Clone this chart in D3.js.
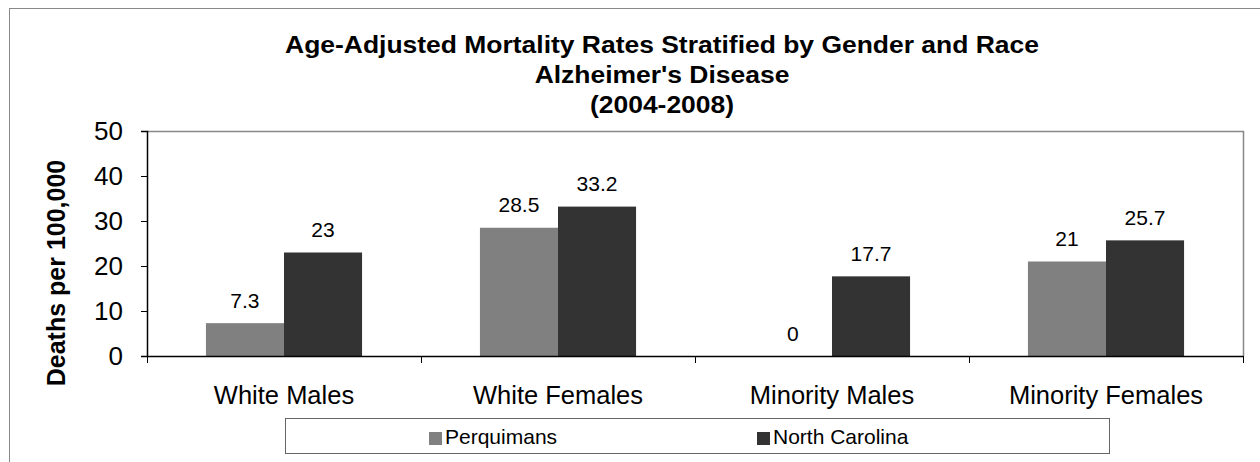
<!DOCTYPE html>
<html lang="en">
<head>
    <meta charset="UTF-8">
    <script src="https://d3js.org/d3.v7.min.js"></script>
    <title>Alzheimer's Disease Mortality</title>
    <style>
        body { margin: 0; background: white; }
        svg { font-family: "Liberation Sans", Arial, sans-serif; display: block; }
    </style>
</head>
<body>
<script>
    // ---------------- data ----------------
    const categories = ["White Males", "White Females", "Minority Males", "Minority Females"];
    const seriesNames = ["Perquimans", "North Carolina"];
    const perquimans = [7.3, 28.5, 0, 21];
    const northCarolina = [23, 33.2, 17.7, 25.7];
    const yTicks = [0, 10, 20, 30, 40, 50];
    const colors = ["#808080", "#333333"];
    const titleLines = [
        "Age-Adjusted Mortality Rates Stratified by Gender and Race",
        "Alzheimer's Disease",
        "(2004-2008)"
    ];

    const W = 1260, H = 462;
    const plot = { left: 147, right: 1243, top: 131, bottom: 356 };
    const FONT = "Liberation Sans, Arial, sans-serif";

    const svg = d3.select("body").append("svg")
        .attr("width", W)
        .attr("height", H);

    // outer chart border (runs off the right / bottom edge)
    svg.append("rect")
        .attr("x", 9.5).attr("y", 8.5)
        .attr("width", W + 20).attr("height", H + 20)
        .attr("fill", "none").attr("stroke", "#888").attr("stroke-width", 1);

    // title - text is a bit wider than tall in the original, so stretch it a little
    svg.append("g").selectAll("text")
        .data(titleLines)
        .enter().append("text")
        .attr("transform", (d, i) => `translate(662,${53 + i * 30}) scale(1.08,1)`)
        .attr("text-anchor", "middle")
        .attr("font-size", 24.5).attr("font-weight", "bold")
        .text(d => d);

    // scales
    const x0 = d3.scaleBand().domain(categories).range([plot.left, plot.right]);
    const x1 = d3.scaleBand().domain(seriesNames)
        .range([0, x0.bandwidth()]).paddingOuter(0.755).paddingInner(0);
    const y = d3.scaleLinear().domain([0, 50]).range([plot.bottom, plot.top]);

    // plot area border (grey)
    svg.append("path")
        .attr("d", `M${plot.left},${plot.top + 0.5}H${plot.right + 0.5}V${plot.bottom}`)
        .attr("fill", "none").attr("stroke", "#888").attr("stroke-width", 1.5);

    // bars
    const rows = categories.map((c, i) => ({ cat: c, vals: [perquimans[i], northCarolina[i]] }));
    const groups = svg.append("g").selectAll("g")
        .data(rows)
        .enter().append("g")
        .attr("transform", d => `translate(${x0(d.cat)},0)`);

    groups.selectAll("rect")
        .data(d => d.vals.map((v, j) => ({ name: seriesNames[j], v: v, j: j })))
        .enter().append("rect")
        .attr("x", d => x1(d.name))
        .attr("y", d => y(d.v))
        .attr("width", x1.bandwidth())
        .attr("height", d => plot.bottom - y(d.v))
        .attr("fill", d => colors[d.j]);

    groups.selectAll("text")
        .data(d => d.vals.map((v, j) => ({ name: seriesNames[j], v: v })))
        .enter().append("text")
        .attr("x", d => x1(d.name) + x1.bandwidth() / 2)
        .attr("y", d => y(d.v) - 15.5)
        .attr("text-anchor", "middle")
        .attr("font-size", 21)
        .text(d => d.v);

    // y axis
    const yAxis = svg.append("g")
        .attr("transform", `translate(${plot.left},0)`)
        .call(d3.axisLeft(y).tickValues(yTicks).tickSize(6).tickPadding(18));
    yAxis.select(".domain").attr("stroke", "#000").attr("stroke-width", 1.5);
    yAxis.selectAll(".tick line").attr("stroke", "#000");
    yAxis.selectAll("text").attr("font-size", 26).attr("fill", "#000")
        .attr("font-family", FONT);

    // x axis
    const xAxis = svg.append("g")
        .attr("transform", `translate(0,${plot.bottom})`)
        .call(d3.axisBottom(x0).tickSize(0).tickPadding(30));
    xAxis.select(".domain").attr("stroke", "#000").attr("stroke-width", 1.5);
    xAxis.selectAll("text").attr("font-size", 25.5).attr("fill", "#000")
        .attr("font-family", FONT);

    // category separators
    const bounds = categories.map(c => x0(c)).concat([plot.right]);
    svg.append("g").selectAll("line")
        .data(bounds)
        .enter().append("line")
        .attr("x1", d => d + 0.5).attr("x2", d => d + 0.5)
        .attr("y1", plot.bottom).attr("y2", plot.bottom + 7)
        .attr("stroke", "#000");

    // y axis title (sits a little below the plot's middle in the original)
    svg.append("text")
        .attr("transform", "translate(65,273) rotate(-90)")
        .attr("text-anchor", "middle")
        .attr("font-size", 25).attr("font-weight", "bold")
        .text("Deaths per 100,000");

    // legend
    const legend = svg.append("g");
    legend.append("rect")
        .attr("x", 285.5).attr("y", 418.5)
        .attr("width", 824).attr("height", 35)
        .attr("fill", "white").attr("stroke", "#666").attr("stroke-width", 1);
    const legendX = [429, 757];
    const items = legend.selectAll("g.item")
        .data(seriesNames)
        .enter().append("g")
        .attr("class", "item")
        .attr("transform", (d, i) => `translate(${legendX[i]},432)`);
    items.append("rect")
        .attr("width", 13).attr("height", 13)
        .attr("fill", (d, i) => colors[i]);
    items.append("text")
        .attr("x", 16).attr("y", 12)
        .attr("font-size", 21)
        .text(d => d);
</script>
</body>
</html>
